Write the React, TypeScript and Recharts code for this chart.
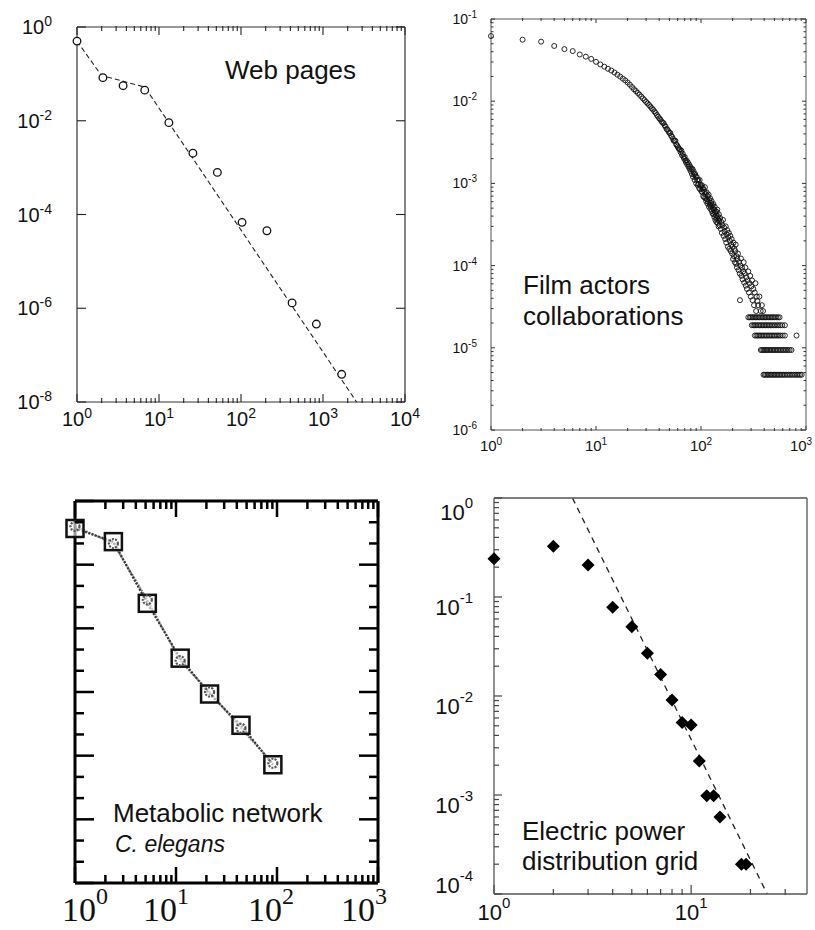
import React from "react";
import { ComposedChart, Scatter, Line, XAxis, YAxis } from "recharts";

// ---------- Web pages ----------
const webK = [1, 2.07, 3.65, 6.7, 13.2, 25.9, 51.5, 103, 207, 420, 830, 1690];
const webP = [0.5, 0.083, 0.056, 0.045, 0.0091, 0.00203, 0.00079, 6.8e-5, 4.5e-5, 1.3e-6, 4.6e-7, 3.9e-8];
const webFitK = [1, 1.98, 6.74, 2570];
const webFitP = [0.5, 0.093, 0.052, 1e-8];
const webXMajor = [1, 10, 100, 1000, 10000];
const webYMajor = [1e-8, 1e-6, 1e-4, 1e-2, 1];

// ---------- Film actors ----------
const filmCurveK = [
  1, 2, 3, 4, 5, 6, 7, 8, 9, 10, 11, 12, 13, 14, 15, 16, 17, 18, 19, 20,
  21, 22, 23, 24, 25, 26, 27, 28, 29, 30, 31, 32, 33, 34, 35, 36, 37, 38, 39, 40,
  41, 42, 43, 44, 45, 46, 47, 48, 49, 50, 51, 52, 53, 54, 55, 56, 57, 58, 59, 60,
];
const filmCurveP = [
  0.062, 0.056, 0.053, 0.047, 0.043, 0.0407, 0.037, 0.0348, 0.0327, 0.0301,
  0.028, 0.0263, 0.0248, 0.0236, 0.0223, 0.021, 0.0199, 0.0188, 0.0179, 0.0169,
  0.0159, 0.0149, 0.014, 0.0133, 0.0126, 0.012, 0.0114, 0.0108, 0.0103, 0.0098,
  0.0094, 0.009, 0.0086, 0.0082, 0.0079, 0.0075, 0.0072, 0.0068, 0.0065, 0.0062,
  0.006, 0.0057, 0.0055, 0.0054, 0.0051, 0.0049, 0.0046, 0.0045, 0.0043, 0.0041,
  0.0041, 0.0038, 0.0037, 0.0035, 0.0033, 0.0033, 0.0033, 0.003, 0.0029, 0.0028,
];
const filmMid: [number, number][] = [
  [61, 0.0027], [62, 0.0026], [63, 0.0026], [64, 0.0024], [65, 0.0025], [66, 0.0022], [67, 0.0023],
  [68, 0.0021], [69, 0.002], [70, 0.0021], [71, 0.0019], [72, 0.0018], [73, 0.0019], [74, 0.0017],
  [75, 0.0018], [76, 0.0016], [77, 0.0017], [78, 0.0015], [79, 0.0016], [80, 0.0014], [81, 0.0015],
  [82, 0.0013], [83, 0.0015], [84, 0.0012], [85, 0.0014], [86, 0.0013], [87, 0.0011], [88, 0.0013],
  [89, 0.0012], [90, 0.001], [91, 0.0012], [92, 0.0011], [93, 0.00095], [94, 0.0011], [95, 0.00098],
  [96, 0.00088], [97, 0.0011], [98, 0.00085], [99, 0.00096], [100, 0.00092], [101, 0.0008],
  [102, 0.00095], [103, 0.00078], [104, 0.00088], [105, 0.0007], [106, 0.00084], [107, 0.00068],
  [108, 0.00079], [109, 0.0009], [110, 0.00066], [111, 0.00074], [112, 0.00061], [113, 0.00078],
  [114, 0.00064], [115, 0.00057], [116, 0.0007], [117, 0.0006], [118, 0.00073], [119, 0.00052],
  [120, 0.00063], [121, 0.00055], [122, 0.00066], [123, 0.00049], [124, 0.00058], [125, 0.00052],
  [126, 0.00061], [127, 0.00046], [128, 0.00054], [129, 0.00043], [130, 0.0005], [131, 0.00056],
  [132, 0.00042], [133, 0.00048], [134, 0.00039], [135, 0.00052], [136, 0.00044], [137, 0.00036],
  [138, 0.00046], [139, 0.00041], [140, 0.00034], [141, 0.00045], [142, 0.00038], [143, 0.00048],
  [144, 0.00033], [145, 0.0004], [146, 0.00036], [147, 0.0003], [148, 0.00042], [149, 0.00035],
  [150, 0.00031],
];
const filmTail: [number, number][] = [
  [152, 0.00038], [154, 0.00028], [156, 0.00034], [158, 0.00025], [160, 0.00031], [162, 0.00036],
  [164, 0.00023], [166, 0.00029], [168, 0.00026], [170, 0.00021], [172, 0.0003], [174, 0.00019],
  [176, 0.00024], [178, 0.00027], [180, 0.00017], [182, 0.00022], [184, 0.00025], [186, 0.00016],
  [188, 0.0002], [190, 0.00023], [192, 0.00015], [194, 0.00018], [196, 0.00021], [198, 0.00014],
  [200, 0.00017], [202, 0.00012], [204, 0.00019], [206, 0.00013], [208, 0.00016], [210, 0.00011],
  [212, 0.00015], [214, 0.00018], [216, 0.000105], [218, 0.00013], [220, 0.000095], [222, 0.00012],
  [225, 0.00014], [228, 0.000088], [231, 0.00011], [234, 0.00008], [235, 0.000038], [237, 0.0001],
  [240, 0.000122], [243, 0.000075], [246, 0.000094], [249, 0.000068], [252, 0.000085], [255, 0.00011],
  [258, 0.000062], [261, 0.00008], [264, 0.000095], [267, 0.000057], [270, 0.000072], [274, 0.000052],
  [278, 0.000066], [282, 0.000085], [286, 0.000047], [290, 0.000061], [294, 0.000075], [298, 0.000042],
  [302, 0.000056], [306, 0.000066], [310, 0.000038], [315, 0.000052], [320, 0.000033], [325, 0.000047],
  [330, 0.000061], [335, 0.000028], [340, 0.000042], [345, 0.000037], [350, 0.000033], [360, 0.000042],
  [370, 0.000028], [380, 0.000033], [390, 0.000028],
];
const filmRowP = [2.35e-5, 1.88e-5, 1.41e-5, 9.4e-6, 4.7e-6];
const filmRowK = [
  [282, 292, 300, 310, 320, 330, 340, 350, 362, 375, 388, 400, 412, 425, 440, 455, 470, 485, 500, 520, 540, 560],
  [305, 315, 325, 335, 348, 360, 372, 385, 398, 412, 426, 440, 456, 472, 490, 508, 528, 548, 570, 595, 630],
  [326, 337, 348, 360, 372, 385, 398, 412, 426, 442, 458, 475, 492, 510, 530, 550, 572, 600, 630, 812],
  [371, 382, 394, 406, 418, 431, 445, 459, 474, 490, 506, 523, 541, 560, 580, 600, 622, 645, 670, 698, 727],
  [394, 405, 417, 430, 443, 457, 471, 486, 501, 517, 534, 552, 570, 590, 610, 632, 655, 680, 705, 732, 760, 790, 820, 850, 880, 910],
];
const filmXMajor = [1, 10, 100, 1000];
const filmYMajor = [1e-6, 1e-5, 1e-4, 1e-3, 1e-2, 1e-1];

// ---------- Metabolic network ----------
const metaK = [1, 2.4, 5.2, 11, 21.5, 44, 91];
const metaIn = [0.37, 0.23, 0.0247, 0.0034, 0.00093, 0.0003, 0.000072];
const metaOut = [0.4, 0.215, 0.028, 0.0031, 0.001, 0.00027, 0.000076];
const metaXMajor = [1, 10, 100, 1000];
const metaYMajor = [1e-6, 1e-5, 1e-4, 1e-3, 1e-2, 1e-1, 1];

// ---------- Electric power grid ----------
const gridK = [1, 2, 3, 4, 5, 6, 7, 8, 9, 10, 11, 12, 13, 14, 18, 19];
const gridP = [0.244, 0.326, 0.21, 0.079, 0.05, 0.027, 0.0165, 0.0091, 0.0054, 0.0051, 0.0022, 0.00098, 0.00098, 0.0006, 0.0002, 0.0002];
const gridFitK = [2.5, 24.3];
const gridFitP = [1, 1e-4];
const gridXMajor = [1, 10];
const gridYMajor = [1e-4, 1e-3, 1e-2, 1e-1, 1];

const SANS = '"Liberation Sans", Arial, Helvetica, sans-serif';
const SERIF = '"Liberation Serif", "Times New Roman", serif';

const pairs = (xs: number[], ys: number[]) => xs.map((x, i) => ({ x, y: ys[i] }));
const mults = [2, 3, 4, 5, 6, 7, 8, 9];
const withMinors = (majors: number[], top: number) =>
  majors.flatMap((m) => [m, ...mults.map((k) => m * k)]).filter((v) => v <= top * 1.0001);
const isMajor = (v: number) => Math.abs(Math.log10(v) - Math.round(Math.log10(v))) < 1e-6;
const minorsOf = (majors: number[], top: number) => withMinors(majors, top).filter((v) => !isMajor(v));

const web = pairs(webK, webP);
const webFit = pairs(webFitK, webFitP);
const film = [
  ...pairs(filmCurveK, filmCurveP),
  ...filmMid.map(([x, y]) => ({ x, y })),
  ...filmTail.map(([x, y]) => ({ x, y })),
  ...filmRowK.flatMap((row, i) => row.map((x) => ({ x, y: filmRowP[i] }))),
];
const metaA = pairs(metaK, metaIn);
const metaB = pairs(metaK, metaOut);
const grid = pairs(gridK, gridP);
const gridFit = pairs(gridFitK, gridFitP);

interface LabelLook {
  font: string;
  size: number;
  sup: number;
  rise: number;
  gap: number;
  nudge?: (v: number) => [number, number];
}

const Pow = ({ x, y, v, lab, anchor }: { x: number; y: number; v: number; lab: LabelLook; anchor: "middle" | "end" }) => (
  <text x={x} y={y} textAnchor={anchor} fontFamily={lab.font} fontSize={lab.size} fill="#111">
    10
    <tspan dy={-lab.rise} fontSize={lab.sup}>
      {Math.round(Math.log10(v))}
    </tspan>
  </text>
);

// x labels: recharts hands the inner end of the (inward) tick line, so step back by `lift`
function xLabel(lab: LabelLook, lift: number) {
  return (props: any) => {
    const v = props.payload.value as number;
    const [dx, dy] = lab.nudge ? lab.nudge(v) : [0, 0];
    return <Pow x={props.x + dx} y={props.y + lift + lab.gap + dy} v={v} lab={lab} anchor="middle" />;
  };
}

// y ticks: short mark pointing into the plot, plus an optional 10^n label for decades
function yTick(side: "left" | "right", color: string, width: number, major: number, minor: number, lab?: LabelLook) {
  return (props: any) => {
    const { x, y, payload } = props;
    const v = payload.value as number;
    const big = isMajor(v);
    const len = big ? major : minor;
    const x2 = side === "left" ? x + len : x - len;
    let text: React.ReactNode = null;
    if (lab && big) {
      const [dx, dy] = lab.nudge ? lab.nudge(v) : [0, 0];
      text = <Pow x={x - lab.gap + dx} y={y + lab.size * 0.36 + dy} v={v} lab={lab} anchor="end" />;
    }
    return (
      <g>
        {len > 0 && <line x1={x} y1={y} x2={x2} y2={y} stroke={color} strokeWidth={width} />}
        {text}
      </g>
    );
  };
}

const logAxis = {
  type: "number" as const,
  scale: "log" as const,
  interval: 0 as const,
  tickSize: 0,
  tickMargin: 0,
  tickLine: false,
};
const blank = () => <g />;
// axes with no series of their own get a hidden one, or recharts drops their ticks
const hidden = () => <g />;

const WebPanel = () => {
  const ax = { stroke: "#333", strokeWidth: 1.2 };
  const tl = { stroke: "#222", strokeWidth: 1.1 };
  const lab: LabelLook = { font: SANS, size: 20, sup: 14, rise: 8, gap: 24 };
  const dom = [1, 10000];
  const minors = minorsOf(webXMajor, 10000);
  return (
    <ComposedChart width={440} height={440} margin={{ top: 25, right: 34, bottom: 36, left: 76 }}>
      <XAxis {...logAxis} xAxisId="b" dataKey="x" domain={dom} ticks={webXMajor} height={1} axisLine={ax} tickLine={tl} tickSize={-8} tick={xLabel(lab, 8)} />
      <XAxis {...logAxis} xAxisId="bm" dataKey="x" domain={dom} ticks={minors} height={1} axisLine={false} tickLine={tl} tickSize={-5} tick={blank} />
      <XAxis {...logAxis} xAxisId="t" dataKey="x" orientation="top" domain={dom} ticks={webXMajor} height={1} axisLine={ax} tickLine={tl} tickSize={-8} tick={blank} />
      <XAxis {...logAxis} xAxisId="tm" dataKey="x" orientation="top" domain={dom} ticks={minors} height={1} axisLine={false} tickLine={tl} tickSize={-5} tick={blank} />
      <YAxis {...logAxis} yAxisId="l" domain={[1e-8, 1]} ticks={webYMajor} width={1} axisLine={ax} tick={yTick("left", "#222", 1.1, 9, 0, { ...lab, gap: 25 })} />
      <YAxis {...logAxis} yAxisId="r" orientation="right" domain={[1e-8, 1]} ticks={webYMajor} width={1} axisLine={ax} tick={yTick("right", "#222", 1.1, 9, 0)} />
      <Scatter xAxisId="t" yAxisId="r" data={web} dataKey="y" shape={hidden} isAnimationActive={false} />
      <Scatter xAxisId="bm" yAxisId="l" data={web} dataKey="y" shape={hidden} isAnimationActive={false} />
      <Scatter xAxisId="tm" yAxisId="l" data={web} dataKey="y" shape={hidden} isAnimationActive={false} />
      <Line xAxisId="b" yAxisId="l" data={webFit} dataKey="y" stroke="#222" strokeWidth={1.1} strokeDasharray="5 3" dot={false} isAnimationActive={false} />
      <Scatter xAxisId="b" yAxisId="l" data={web} dataKey="y" isAnimationActive={false}
        shape={(p: any) => <circle cx={p.cx} cy={p.cy} r={3.8} fill="#fff" stroke="#111" strokeWidth={1.3} />} />
    </ComposedChart>
  );
};

const FilmPanel = () => {
  const ax = { stroke: "#555", strokeWidth: 1 };
  const tl = { stroke: "#333", strokeWidth: 1 };
  const lab: LabelLook = { font: SANS, size: 15, sup: 10, rise: 6, gap: 21, nudge: (v) => [v === 1000 ? -5 : 0, 0] };
  const dom = [1, 1000];
  const minors = minorsOf(filmXMajor, 1000);
  const yt = withMinors(filmYMajor, 0.1);
  return (
    <ComposedChart width={405} height={460} margin={{ top: 17, right: 8, bottom: 28, left: 80 }}>
      <XAxis {...logAxis} xAxisId="b" dataKey="x" domain={dom} ticks={filmXMajor} height={1} axisLine={ax} tickLine={tl} tickSize={-4} tick={xLabel(lab, 4)} />
      <XAxis {...logAxis} xAxisId="bm" dataKey="x" domain={dom} ticks={minors} height={1} axisLine={false} tickLine={tl} tickSize={-3} tick={blank} />
      <XAxis {...logAxis} xAxisId="t" dataKey="x" orientation="top" domain={dom} ticks={filmXMajor} height={1} axisLine={ax} tickLine={tl} tickSize={-4} tick={blank} />
      <XAxis {...logAxis} xAxisId="tm" dataKey="x" orientation="top" domain={dom} ticks={minors} height={1} axisLine={false} tickLine={tl} tickSize={-3} tick={blank} />
      <YAxis {...logAxis} yAxisId="l" domain={[1e-6, 0.1]} ticks={yt} width={1} axisLine={ax}
        tick={yTick("left", "#333", 1, 4, 2.5, { font: SANS, size: 14, sup: 10, rise: 6, gap: 14 })} />
      <YAxis {...logAxis} yAxisId="r" orientation="right" domain={[1e-6, 0.1]} ticks={yt} width={1} axisLine={ax} tick={yTick("right", "#333", 1, 4, 2.5)} />
      <Scatter xAxisId="t" yAxisId="r" data={filmMid.map(([x, y]) => ({ x, y }))} dataKey="y" shape={hidden} isAnimationActive={false} />
      <Scatter xAxisId="bm" yAxisId="l" data={filmMid.map(([x, y]) => ({ x, y }))} dataKey="y" shape={hidden} isAnimationActive={false} />
      <Scatter xAxisId="tm" yAxisId="l" data={filmMid.map(([x, y]) => ({ x, y }))} dataKey="y" shape={hidden} isAnimationActive={false} />
      <Scatter xAxisId="b" yAxisId="l" data={film} dataKey="y" isAnimationActive={false}
        shape={(p: any) => <circle cx={p.cx} cy={p.cy} r={2.5} fill="none" stroke="#111" strokeWidth={0.9} />} />
    </ComposedChart>
  );
};

const metaNudge: Record<number, number> = { 1: 10, 10: -10, 100: -6, 1000: -14 };

const MetaPanel = () => {
  const ax = { stroke: "#000", strokeWidth: 3 };
  const tl = { stroke: "#000", strokeWidth: 2.5 };
  const lab: LabelLook = { font: SERIF, size: 34, sup: 24, rise: 17, gap: 38, nudge: (v) => [metaNudge[v] ?? 0, 0] };
  const dom = [1, 1000];
  const minors = minorsOf(metaXMajor, 1000);
  const yt = metaYMajor.flatMap((m) => [m, m * 10 ** (1 / 3), m * 10 ** (2 / 3)]).filter((v) => v <= 1.0001);
  return (
    <ComposedChart width={410} height={470} margin={{ top: 39, right: 31, bottom: 45, left: 74 }}>
      <XAxis {...logAxis} xAxisId="b" dataKey="x" domain={dom} ticks={metaXMajor} height={1} axisLine={ax} tickLine={tl} tickSize={-16} tick={xLabel(lab, 16)} />
      <XAxis {...logAxis} xAxisId="bm" dataKey="x" domain={dom} ticks={minors} height={1} axisLine={false} tickLine={tl} tickSize={-9} tick={blank} />
      <XAxis {...logAxis} xAxisId="t" dataKey="x" orientation="top" domain={dom} ticks={metaXMajor} height={1} axisLine={ax} tickLine={tl} tickSize={-16} tick={blank} />
      <XAxis {...logAxis} xAxisId="tm" dataKey="x" orientation="top" domain={dom} ticks={minors} height={1} axisLine={false} tickLine={tl} tickSize={-9} tick={blank} />
      <YAxis {...logAxis} yAxisId="l" domain={[1e-6, 1]} ticks={yt} width={1} axisLine={ax} tick={yTick("left", "#000", 2.5, 19, 9)} />
      <YAxis {...logAxis} yAxisId="r" orientation="right" domain={[1e-6, 1]} ticks={yt} width={1} axisLine={ax} tick={yTick("right", "#000", 2.5, 19, 9)} />
      <Scatter xAxisId="t" yAxisId="r" data={metaA} dataKey="y" shape={hidden} isAnimationActive={false} />
      <Scatter xAxisId="bm" yAxisId="l" data={metaA} dataKey="y" shape={hidden} isAnimationActive={false} />
      <Scatter xAxisId="tm" yAxisId="l" data={metaA} dataKey="y" shape={hidden} isAnimationActive={false} />
      <Line xAxisId="b" yAxisId="l" data={metaB} dataKey="y" stroke="#888" strokeWidth={2.2} strokeDasharray="2 1" dot={false} isAnimationActive={false} />
      <Line xAxisId="b" yAxisId="l" data={metaA} dataKey="y" stroke="#333" strokeWidth={2.2} strokeDasharray="2 1.5" dot={false} isAnimationActive={false} />
      <Scatter xAxisId="b" yAxisId="l" data={metaA} dataKey="y" isAnimationActive={false}
        shape={(p: any) => <rect x={p.cx - 8.5} y={p.cy - 8.5} width={17} height={17} fill="#fff" fillOpacity={0.6} stroke="#111" strokeWidth={2.5} />} />
      <Scatter xAxisId="b" yAxisId="l" data={metaB} dataKey="y" isAnimationActive={false}
        shape={(p: any) => <circle cx={p.cx} cy={p.cy} r={4.5} fill="none" stroke="#555" strokeWidth={2.2} strokeDasharray="2 1.2" />} />
    </ComposedChart>
  );
};

const GridPanel = () => {
  const ax = { stroke: "#555", strokeWidth: 1.3 };
  const tl = { stroke: "#444", strokeWidth: 1.2 };
  const lab: LabelLook = { font: SANS, size: 22, sup: 15, rise: 12, gap: 21 };
  const dom = [1, 38.7];
  const minors = minorsOf(gridXMajor, 38.7);
  const yt = withMinors(gridYMajor, 1);
  return (
    <ComposedChart width={405} height={470} margin={{ top: 37, right: 7, bottom: 34, left: 83 }}>
      <XAxis {...logAxis} xAxisId="b" dataKey="x" domain={dom} ticks={gridXMajor} height={1} axisLine={ax} tickLine={tl} tickSize={-9} tick={xLabel({ ...lab, gap: 26 }, 9)} />
      <XAxis {...logAxis} xAxisId="bm" dataKey="x" domain={dom} ticks={minors} height={1} axisLine={false} tickLine={tl} tickSize={-6} tick={blank} />
      <XAxis {...logAxis} xAxisId="t" dataKey="x" orientation="top" domain={dom} ticks={gridXMajor} height={1} axisLine={ax} tick={false} />
      <YAxis {...logAxis} yAxisId="l" domain={[1e-4, 1]} ticks={yt} width={1} axisLine={ax}
        tick={yTick("left", "#444", 1.2, 8, 5, { ...lab, nudge: (v) => [0, v === 1 ? 14 : v === 1e-4 ? -9 : 10] })} />
      <YAxis {...logAxis} yAxisId="r" orientation="right" domain={[1e-4, 1]} ticks={yt} width={1} axisLine={ax} tick={false} />
      <Scatter xAxisId="t" yAxisId="r" data={grid} dataKey="y" shape={hidden} isAnimationActive={false} />
      <Scatter xAxisId="bm" yAxisId="l" data={grid} dataKey="y" shape={hidden} isAnimationActive={false} />
      <Line xAxisId="b" yAxisId="l" data={gridFit} dataKey="y" stroke="#222" strokeWidth={1.3} strokeDasharray="6 5" dot={false} isAnimationActive={false} />
      <Scatter xAxisId="b" yAxisId="l" data={grid} dataKey="y" isAnimationActive={false}
        shape={(p: any) => (
          <polygon points={`${p.cx},${p.cy - 6.5} ${p.cx + 6.5},${p.cy} ${p.cx},${p.cy + 6.5} ${p.cx - 6.5},${p.cy}`} fill="#000" />
        )} />
    </ComposedChart>
  );
};

const place = (left: number, top: number): React.CSSProperties => ({ position: "absolute", left, top });

export default function App() {
  return (
    <div style={{ position: "absolute", left: 0, top: 0, width: 815, height: 930, background: "#fff", overflow: "hidden" }}>
      <div style={place(0, 0)}><WebPanel /></div>
      <div style={place(410, 0)}><FilmPanel /></div>
      <div style={place(0, 460)}><MetaPanel /></div>
      <div style={place(410, 460)}><GridPanel /></div>
      <svg width={815} height={930} style={{ position: "absolute", left: 0, top: 0, pointerEvents: "none" }}>
        <g fontFamily={SANS} fontSize={26} fill="#111">
          <text x={225} y={79}>Web pages</text>
          <text x={523} y={294}>Film actors</text>
          <text x={523} y={325}>collaborations</text>
          <text x={113} y={822}>Metabolic network</text>
          <text x={115} y={852} fontSize={23} fontStyle="italic">C. elegans</text>
          <text x={522} y={840}>Electric power</text>
          <text x={522} y={870}>distribution grid</text>
        </g>
      </svg>
    </div>
  );
}
